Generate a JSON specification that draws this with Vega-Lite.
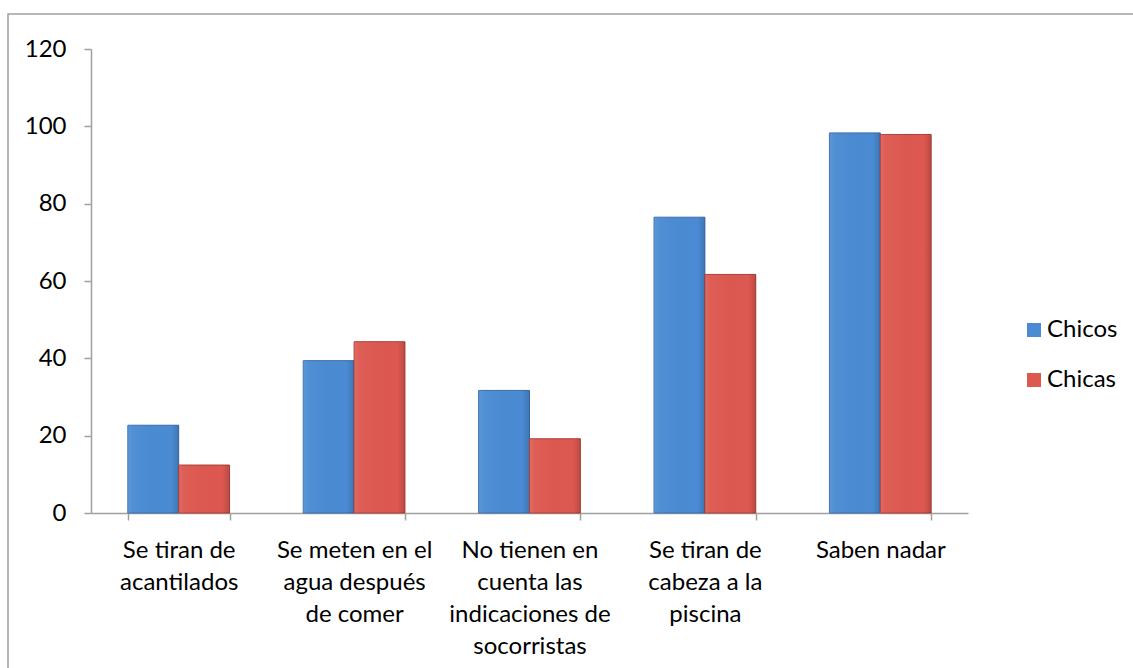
{
  "$schema": "https://vega.github.io/schema/vega-lite/v6.json",
  "autosize": {"type": "none"},
  "padding": {"left": 8, "top": 14, "right": 0, "bottom": 0},
  "width": 1140,
  "height": 670,
  "background": "white",
  "config": {
    "view": {"stroke": "#A0A0A0", "strokeWidth": 1.5},
    "font": "Lato"
  },
  "data": {
    "values": [
      {"categoria": "Se tiran de acantilados", "grupo": "Chicos", "valor": 22.7},
      {"categoria": "Se tiran de acantilados", "grupo": "Chicas", "valor": 12.4},
      {"categoria": "Se meten en el agua después de comer", "grupo": "Chicos", "valor": 39.4},
      {"categoria": "Se meten en el agua después de comer", "grupo": "Chicas", "valor": 44.3},
      {"categoria": "No tienen en cuenta las indicaciones de socorristas", "grupo": "Chicos", "valor": 31.7},
      {"categoria": "No tienen en cuenta las indicaciones de socorristas", "grupo": "Chicas", "valor": 19.2},
      {"categoria": "Se tiran de cabeza a la piscina", "grupo": "Chicos", "valor": 76.5},
      {"categoria": "Se tiran de cabeza a la piscina", "grupo": "Chicas", "valor": 61.7},
      {"categoria": "Saben nadar", "grupo": "Chicos", "valor": 98.3},
      {"categoria": "Saben nadar", "grupo": "Chicas", "valor": 97.9}
    ]
  },
  "encoding": {
    "x": {
      "field": "categoria",
      "type": "nominal",
      "sort": null,
      "scale": {"range": [83, 960], "paddingInner": 0.42, "paddingOuter": 0.21},
      "axis": {
        "title": null,
        "offset": -171,
        "labelAngle": 0,
        "labelFontSize": 24,
        "labelLineHeight": 32,
        "labelBaseline": "top",
        "labelPadding": 18,
        "labelColor": "#000000",
        "labelLimit": 300,
        "domainColor": "#A0A0A0",
        "domainWidth": 1.5,
        "tickColor": "#A0A0A0",
        "tickWidth": 1.5,
        "tickSize": 7,
        "tickBand": "extent",
        "labelExpr": "datum.label == 'Se tiran de acantilados' ? ['Se tiran de', 'acantilados'] : datum.label == 'Se meten en el agua después de comer' ? ['Se meten en el', 'agua después', 'de comer'] : datum.label == 'No tienen en cuenta las indicaciones de socorristas' ? ['No tienen en', 'cuenta las', 'indicaciones de', 'socorristas'] : datum.label == 'Se tiran de cabeza a la piscina' ? ['Se tiran de', 'cabeza a la', 'piscina'] : datum.label"
      }
    },
    "xOffset": {"field": "grupo", "type": "nominal", "sort": ["Chicos", "Chicas"]},
    "y": {
      "field": "valor",
      "type": "quantitative",
      "scale": {"domain": [0, 120], "range": [499, 35], "nice": false},
      "axis": {
        "title": null,
        "offset": -83,
        "values": [0, 20, 40, 60, 80, 100, 120],
        "grid": false,
        "labelFontSize": 24,
        "labelColor": "#000000",
        "labelPadding": 18,
        "domainColor": "#A0A0A0",
        "domainWidth": 1.5,
        "tickColor": "#A0A0A0",
        "tickWidth": 1.5,
        "tickSize": 7
      }
    }
  },
  "layer": [
    {
      "mark": {"type": "bar", "strokeWidth": 1},
      "encoding": {
        "color": {
          "field": "grupo",
          "type": "nominal",
          "sort": ["Chicos", "Chicas"],
          "scale": {"domain": ["Chicos", "Chicas"], "range": ["#4A8BD3", "#DD5850"]},
          "legend": {
            "title": null,
            "orient": "none",
            "legendX": 1014,
            "legendY": 304,
            "symbolType": "square",
            "symbolSize": 196,
            "symbolStrokeWidth": 0,
            "labelFontSize": 24,
            "labelColor": "#000000",
            "labelOffset": 1,
            "rowPadding": 26
          }
        },
        "stroke": {
          "field": "grupo",
          "type": "nominal",
          "sort": ["Chicos", "Chicas"],
          "scale": {"domain": ["Chicos", "Chicas"], "range": ["#3A6DA8", "#A93F38"]},
          "legend": null
        }
      }
    },
    {
      "mark": {
        "type": "bar",
        "strokeWidth": 0,
        "fill": {
          "gradient": "linear",
          "x1": 0, "y1": 0, "x2": 1, "y2": 0,
          "stops": [
            {"offset": 0, "color": "rgba(255,255,255,0.10)"},
            {"offset": 0.1, "color": "rgba(255,255,255,0.04)"},
            {"offset": 0.85, "color": "rgba(0,0,0,0.0)"},
            {"offset": 1, "color": "rgba(0,0,0,0.15)"}
          ]
        }
      }
    }
  ]
}
